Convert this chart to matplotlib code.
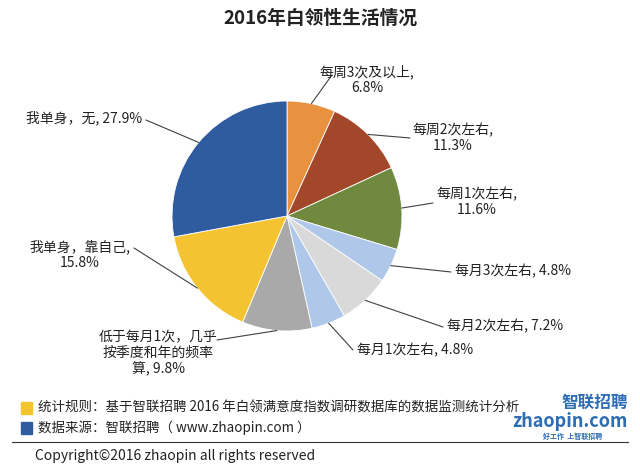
import numpy as np
import matplotlib
matplotlib.use("Agg")
import matplotlib.pyplot as plt
from matplotlib.patches import Rectangle

plt.rcParams['font.family'] = ['Noto Sans CJK SC', 'DejaVu Sans']

# data (clockwise from 12 o'clock)
labels = ['每周3次及以上,\n6.8%', '每周2次左右,\n11.3%', '每周1次左右,\n11.6%',
          '每月3次左右, 4.8%', '每月2次左右, 7.2%', '每月1次左右, 4.8%',
          '低于每月1次，几乎\n按季度和年的频率\n算, 9.8%', '我单身，靠自己,\n15.8%',
          '我单身，无, 27.9%']
values = [6.8, 11.3, 11.6, 4.8, 7.2, 4.8, 9.8, 15.8, 27.9]
colors = ['#E8913E', '#A3472B', '#6F8A3F', '#AFC8EA', '#D9D9D9',
          '#AFC8EA', '#A9A9A9', '#F4C331', '#2F5C9F']

W, H = 640, 469
fig = plt.figure(figsize=(W / 100, H / 100), dpi=100)

# pie axes: centre (287,216) px, radius 115 px
cx, cy, r = 287, 216, 115
ax = fig.add_axes([(cx - r) / W, (H - cy - r) / H, 2 * r / W, 2 * r / H])
wedges, _ = ax.pie(values, colors=colors, startangle=90, counterclock=False,
                   wedgeprops=dict(edgecolor='white', linewidth=0.6))
ax.set_xlim(-1, 1)
ax.set_ylim(-1, 1)
ax.set_aspect('equal')
ax.axis('off')

# label text anchor (px), alignment
label_pos = [((367, 80), 'center'), ((412, 138), 'left'), ((436, 202), 'left'),
             ((455, 271), 'left'), ((447, 326), 'left'), ((357, 350), 'left'),
             ((158, 353), 'center'), ((130, 255), 'right'), ((142, 118), 'right')]
line_end = [(332, 75), (410, 138), (433, 203), (451, 272), (443, 327),
            (353, 350), (217, 340), (134, 248), (146, 120)]

for w, lab, (pos, ha), le in zip(wedges, labels, label_pos, line_end):
    ang = np.deg2rad((w.theta1 + w.theta2) / 2)
    x, y = np.cos(ang), np.sin(ang)
    ax.annotate('', xy=(x, y), xycoords='data',
                xytext=(le[0] / W, 1 - le[1] / H), textcoords='figure fraction',
                arrowprops=dict(arrowstyle='-', color='#404040', lw=0.8,
                                shrinkA=0, shrinkB=0))
    fig.text(pos[0] / W, 1 - pos[1] / H, lab, ha=ha, va='center', fontsize=10,
             color='#222222', linespacing=1.15, multialignment='center')

fig.text(0.5, 1 - 18 / H, '2016年白领性生活情况', ha='center', va='center',
         fontsize=13.5, fontweight='bold', color='#222222')

# footer
fig.patches.append(Rectangle((21 / W, 1 - 414 / H), 11 / W, 12 / H,
                             transform=fig.transFigure, color='#F4C331'))
fig.patches.append(Rectangle((21 / W, 1 - 434 / H), 11 / W, 12 / H,
                             transform=fig.transFigure, color='#2F5C9F'))
fig.text(38 / W, 1 - 408 / H, '统计规则：基于智联招聘 2016 年白领满意度指数调研数据库的数据监测统计分析',
         ha='left', va='center', fontsize=9.7, color='#222222')
fig.text(38 / W, 1 - 428 / H, '数据来源：智联招聘（ www.zhaopin.com ）',
         ha='left', va='center', fontsize=9.7, color='#222222')
fig.add_artist(plt.Line2D([12 / W, 628 / W], [1 - 442 / H, 1 - 442 / H],
                          transform=fig.transFigure, color='#333333', lw=0.8))
fig.text(35 / W, 1 - 456 / H, 'Copyright©2016 zhaopin all rights reserved',
         ha='left', va='center', fontsize=10, color='#222222')

# logo
fig.text(628 / W, 1 - 403 / H, '智联招聘', ha='right', va='center', fontsize=12,
         fontweight='bold', style='italic', color='#2E6DB4')
fig.text(628 / W, 1 - 421 / H, 'zhaopin.com', ha='right', va='center', fontsize=13,
         fontweight='bold', style='italic', color='#2E6DB4')
fig.text(602 / W, 1 - 436 / H, '好工作  上智联招聘', ha='right', va='center', fontsize=5,
         fontweight='bold', color='#2E6DB4')

fig.savefig('out.png', dpi=100, facecolor='white')
